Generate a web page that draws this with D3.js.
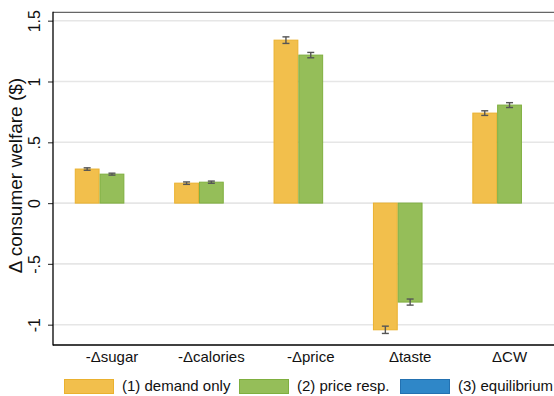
<!DOCTYPE html>
<html>
<head>
<meta charset="utf-8">
<script src="https://cdn.jsdelivr.net/npm/d3@7"></script>
<style>
  html, body { margin: 0; padding: 0; background: #fff; }
  svg { display: block; font-family: "Liberation Sans", Arial, Helvetica, sans-serif; }
</style>
</head>
<body>
<svg id="chart" width="554" height="396"></svg>
<script>
// Welfare decomposition by counterfactual scenario
const categories = ["-\u0394sugar", "-\u0394calories", "-\u0394price", "\u0394taste", "\u0394CW"];
const seriesNames = ["(1) demand only", "(2) price resp.", "(3) equilibrium"];
const demandOnly   = [0.280, 0.164, 1.340, -1.042, 0.740];
const demandOnlyCI = [0.010, 0.010, 0.027, 0.030, 0.019];
const priceResp    = [0.238, 0.172, 1.217, -0.814, 0.806];
const priceRespCI  = [0.008, 0.009, 0.022, 0.025, 0.020];
const equilibrium  = [null, null, null, null, null];
const equilibriumCI = [null, null, null, null, null];
const yTicks = [-1, -0.5, 0, 0.5, 1, 1.5];
const yTickLabels = ["-1", "-.5", "0", ".5", "1", "1.5"];

const fills   = ["#F2BF4C", "#95BE59", "#2F87C8"];
const strokes = ["#EAB12F", "#7FAF3F", "#2371B1"];

const svg = d3.select("#chart");
const plotLeft = 53, plotRight = 568.5, plotTop = 12.3, plotBottom = 345;

const x = d3.scaleBand().domain(categories).range([plotLeft, plotRight])
  .paddingInner(0.2515).paddingOuter(0.219);
const xs = d3.scaleBand().domain(seriesNames).range([0, x.bandwidth()]).padding(0);
const y = d3.scaleLinear().domain([-1.167, 1.569]).range([plotBottom, plotTop]);

// gridlines
svg.append("g").selectAll("line").data(yTicks).join("line")
  .attr("x1", plotLeft).attr("x2", 554)
  .attr("y1", d => y(d)).attr("y2", d => y(d))
  .attr("stroke", "#e6e6e6").attr("stroke-width", 1.6);

// top border of plot region
svg.append("line").attr("x1", plotLeft).attr("x2", 554).attr("y1", plotTop).attr("y2", plotTop)
  .attr("stroke", "#666").attr("stroke-width", 1.3);

const series = [
  { name: seriesNames[0], values: demandOnly, ci: demandOnlyCI },
  { name: seriesNames[1], values: priceResp, ci: priceRespCI },
  { name: seriesNames[2], values: equilibrium, ci: equilibriumCI }
];

const rows = [];
series.forEach((s, si) => {
  categories.forEach((c, ci) => {
    if (s.values[ci] != null) rows.push({ cat: c, series: s.name, si, v: s.values[ci], e: s.ci[ci] });
  });
});

// bars
svg.append("g").selectAll("rect").data(rows).join("rect")
  .attr("x", d => x(d.cat) + xs(d.series) + 0.5)
  .attr("width", xs.bandwidth() - 1)
  .attr("y", d => Math.min(y(d.v), y(0)))
  .attr("height", d => Math.abs(y(d.v) - y(0)))
  .attr("fill", d => fills[d.si])
  .attr("stroke", d => strokes[d.si])
  .attr("stroke-width", 1);

// confidence intervals
const eb = svg.append("g").attr("stroke", "#555").attr("stroke-width", 1.4);
rows.forEach(d => {
  const cx = x(d.cat) + xs(d.series) + xs.bandwidth() / 2;
  const y1 = y(d.v + d.e), y2 = y(d.v - d.e);
  eb.append("line").attr("x1", cx).attr("x2", cx).attr("y1", y1).attr("y2", y2);
  eb.append("line").attr("x1", cx - 3.5).attr("x2", cx + 3.5).attr("y1", y1).attr("y2", y1);
  eb.append("line").attr("x1", cx - 3.5).attr("x2", cx + 3.5).attr("y1", y2).attr("y2", y2);
});

// y axis
const yAxis = d3.axisLeft(y).tickValues(yTicks).tickSize(5)
  .tickFormat((d, i) => yTickLabels[i]);
const gy = svg.append("g").attr("transform", `translate(${plotLeft},0)`).call(yAxis);
gy.select(".domain").remove();
gy.selectAll(".tick line").attr("stroke", "#444").attr("stroke-width", 1.2);
gy.selectAll(".tick text")
  .attr("x", 0).attr("y", 0).attr("dy", null)
  .attr("transform", "translate(-13,0) rotate(-90)")
  .attr("text-anchor", "middle")
  .attr("font-size", 16).attr("fill", "#111")
  .attr("font-family", "Liberation Sans, Arial, sans-serif");

// x axis
const xAxis = d3.axisBottom(x).tickSize(0).tickPadding(0);
const gx = svg.append("g").attr("transform", `translate(0,${plotBottom})`).call(xAxis);
gx.select(".domain").remove();
gx.selectAll(".tick text").attr("dy", null).attr("y", 17)
  .attr("font-size", 15).attr("fill", "#111")
  .attr("font-family", "Liberation Sans, Arial, sans-serif");

// axis lines
svg.append("line").attr("x1", plotLeft).attr("x2", plotLeft).attr("y1", plotTop - 0.6).attr("y2", plotBottom + 0.6)
  .attr("stroke", "#000").attr("stroke-width", 1.3);
svg.append("line").attr("x1", plotLeft).attr("x2", 554).attr("y1", plotBottom).attr("y2", plotBottom)
  .attr("stroke", "#000").attr("stroke-width", 1.3);

// y axis title
svg.append("text")
  .attr("transform", "translate(15.5,175.5) rotate(-90)")
  .attr("text-anchor", "middle").attr("dominant-baseline", "central")
  .attr("font-size", 19).attr("fill", "#111")
  .text("\u0394 consumer welfare ($)");

// legend
const legendX = [64, 239, 400];
const lg = svg.append("g");
seriesNames.forEach((n, i) => {
  lg.append("rect").attr("x", legendX[i] + 0.5).attr("y", 379.5).attr("width", 49).attr("height", 14)
    .attr("fill", fills[i]).attr("stroke", strokes[i]).attr("stroke-width", 1);
  lg.append("text").attr("x", legendX[i] + 58).attr("y", 391)
    .attr("font-size", 15).attr("fill", "#111").text(n);
});
</script>
</body>
</html>
